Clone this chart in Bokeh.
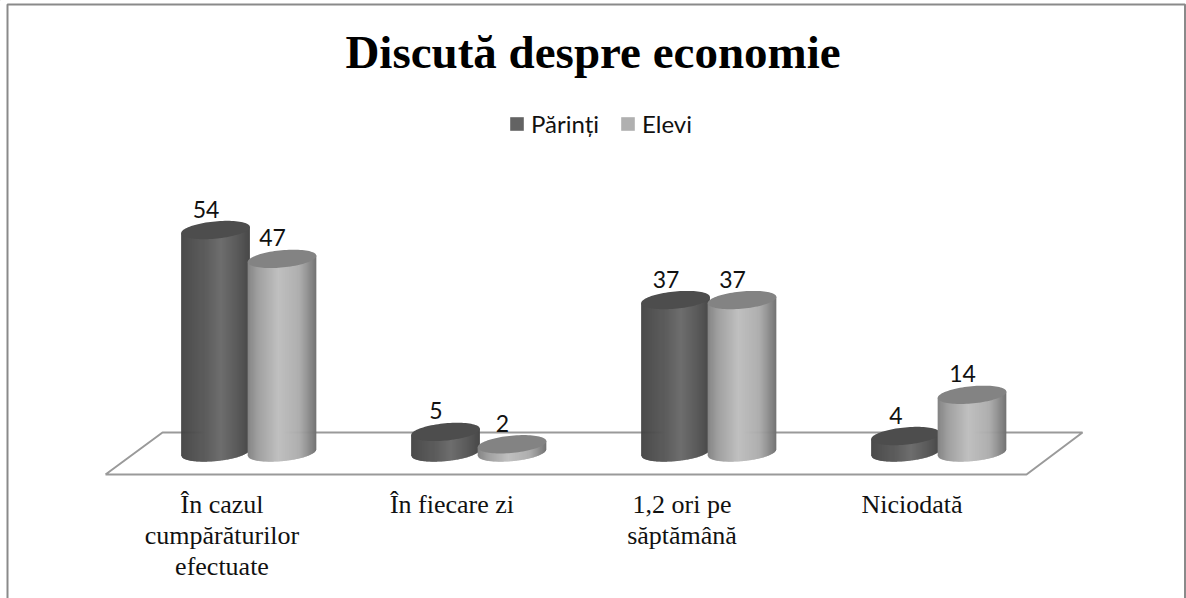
import numpy as np
from bokeh.plotting import figure
from bokeh.embed import file_html
from bokeh.resources import INLINE
from bokeh.core.properties import value as fval
from bokeh.models import Legend, LegendItem, Range1d

title_text = "Discută despre economie"
series_names = ["Părinți", "Elevi"]
parinti = [54, 5, 37, 4]
elevi = [47, 2, 37, 14]
category_lines = [["În cazul", "cumpărăturilor", "efectuate"], ["În fiecare zi"], ["1,2 ori pe", "săptămână"], ["Niciodată"]]

W, H = 1186, 598
X0, DX = 215.0, 230.0      # px of category 0, px per category
Y0, DY = 452.0, 4.12       # px of value 0, px per value unit
BAR_OFF = 66.5 / DX
A, B, TILT = 34.5, 8.6, np.radians(5.5)

p = figure(width=W, height=H, output_backend="svg", toolbar_location=None,
           x_range=Range1d(-X0 / DX, (W - X0) / DX),
           y_range=Range1d((Y0 - H) / DY, Y0 / DY),
           min_border=0, outline_line_color=None)
p.xaxis.visible = False
p.yaxis.visible = False
p.grid.visible = False
p.background_fill_color = "white"
p.border_fill_color = "white"

def xu(px): return (px - X0) / DX
def yu(px): return (Y0 - px) / DY

# chart frame (open at the bottom)
fr_x = [7, 7, 1184.5, 1184.5]
fr_y = [598, 4, 4, 598]
p.line([xu(v) for v in fr_x], [yu(v) for v in fr_y], line_color="#8a8a8a", line_width=2)

# floor
fl_x = [105, 162, 1082, 1026, 105]
fl_y = [474, 432, 432, 474, 474]
p.line([xu(v) for v in fl_x], [yu(v) for v in fl_y], line_color="#9a9a9a", line_width=2)

def ellipse_offsets(t):
    ex, ey = A * np.cos(t), B * np.sin(t)
    return ex * np.cos(TILT) - ey * np.sin(TILT), ex * np.sin(TILT) + ey * np.cos(TILT)

t = np.linspace(0, 2 * np.pi, 90)
ox, oy = ellipse_offsets(t)
tl = np.linspace(np.pi, 2 * np.pi, 400)
lx, ly = ellipse_offsets(tl)
xmin, xmax = ox.min(), ox.max()

DARK = ([-1, -.6, .15, .6, 1], [66, 80, 110, 92, 72])
LIGHT = ([-1, -.7, -.1, .5, 1], [132, 160, 192, 172, 112])
TOPS = ["#4d4d4d", "#838383"]
LEG = ["#636363", "#b0b0b0"]

def lower(xo):
    o = np.argsort(lx)
    return np.interp(xo, lx[o], ly[o])

def cylinder(cat, val, stops, top):
    xc = X0 + cat * DX
    edges = np.linspace(xmin, xmax, 69)
    xs, ys, cols = [], [], []
    for a, b in zip(edges[:-1], edges[1:]):
        m = (a + b) / 2
        g = int(round(np.interp(m / (xmax - xmin) * 2, stops[0], stops[1])))
        b2 = min(b + .6, xmax)
        sx = [a, b2, b2, a]
        sy = [lower(a), lower(b2), val * DY + b2 * np.tan(TILT), val * DY + a * np.tan(TILT)]
        xs.append([(xc + v - X0) / DX for v in sx])
        ys.append([v / DY for v in sy])
        cols.append(f"#{g:02x}{g:02x}{g:02x}")
    p.patches(xs, ys, fill_color=cols, line_color=None)
    p.patch((xc + ox - X0) / DX, (val * DY + oy) / DY, fill_color=top, line_color=None)

for i, v in enumerate(parinti):
    cylinder(i, v, DARK, TOPS[0])
    cylinder(i + BAR_OFF, elevi[i], LIGHT, TOPS[1])

# value labels
for i in range(4):
    for off, vals in ((0, parinti), (BAR_OFF, elevi)):
        p.text([i + off], [vals[i]], text=[str(vals[i])], text_font=fval("Lato"), text_font_size="23px",
               text_color="#111111", text_align="center", text_baseline="alphabetic", x_offset=-9.5, y_offset=-21)

# category labels
for i, lines in enumerate(category_lines):
    for j, s in enumerate(lines):
        p.text([i], [0], text=[s], text_font=fval("Liberation Serif"), text_font_size="26px",
               text_color="#111111", text_align="center", text_baseline="alphabetic",
               x_offset=6.5, y_offset=(504 + j * 31) - Y0)

# title
p.text([xu(592.5)], [yu(51.5)], text=[title_text], text_font=fval("Liberation Serif"), text_font_size="47px",
       text_font_style="bold", text_color="black", text_align="center", text_baseline="alphabetic")

# legend (its swatches come from two marks placed outside the visible range)
r1 = p.vbar(x=[-100], bottom=[1000], top=[1001], width=1, fill_color=LEG[0], line_color=None)
r2 = p.vbar(x=[-100], bottom=[1000], top=[1001], width=1, fill_color=LEG[1], line_color=None)
leg = Legend(items=[LegendItem(label=series_names[0], renderers=[r1]), LegendItem(label=series_names[1], renderers=[r2])],
             orientation="horizontal", location=(508, H - 138), glyph_width=17, glyph_height=17,
             label_text_font="Lato", label_text_font_size="24px", label_text_color="#111111",
             border_line_color=None, background_fill_alpha=0, padding=0, margin=0, spacing=20, label_standoff=6)
p.add_layout(leg)

open("out.html", "w").write(file_html(p, INLINE))
